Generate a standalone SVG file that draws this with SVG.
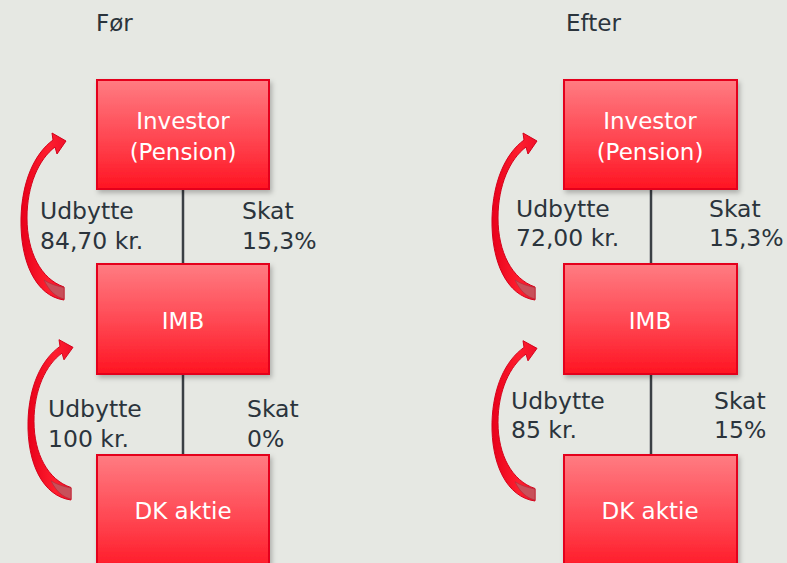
<svg xmlns="http://www.w3.org/2000/svg" xmlns:xlink="http://www.w3.org/1999/xlink" width="787" height="563" viewBox="0 0 787 563">
<defs>
<linearGradient id="boxg" x1="0" y1="0" x2="0" y2="1">
<stop offset="0" stop-color="#ff7c82"/>
<stop offset="0.5" stop-color="#ff4a55"/>
<stop offset="1" stop-color="#ff1422"/>
</linearGradient>
<linearGradient id="arrg" x1="0" y1="0" x2="1" y2="0">
<stop offset="0" stop-color="#e8001a"/>
<stop offset="0.6" stop-color="#ff1e2e"/>
<stop offset="1" stop-color="#f0102a"/>
</linearGradient>
<filter id="sh" x="-10%" y="-10%" width="130%" height="130%">
<feDropShadow dx="2" dy="3" stdDeviation="2.5" flood-color="#000" flood-opacity="0.25"/>
</filter>
<g id="arrow">
<path d="M64,300 C36,296 20,262 21,218 C22,182 34,154 53,140 L52,133 L66,141 L57,154 L55,147 C39,159 27,185 27,218 C27,252 41,279 64,287 Z" fill="url(#arrg)" stroke="#d4001a" stroke-width="1"/>
<path d="M44,280 C50,284 57,286 64,287.5 L64,299 C56,297 49,291 44,280 Z" fill="#c8505a" stroke="#b8303c" stroke-width="0.8"/>
</g>
</defs>
<style>
.box{fill:url(#boxg);stroke:#e4001e;stroke-width:2;filter:url(#sh)}
.bt{font-family:"DejaVu Sans",sans-serif;font-size:23px;fill:#ffffff;text-anchor:middle}
.lt{font-family:"DejaVu Sans",sans-serif;font-size:23.5px;fill:#2b343c}
.hd{font-family:"DejaVu Sans",sans-serif;font-size:23px;fill:#2b343c}
.ln{stroke:#3a3f44;stroke-width:2.5}
</style>
<rect width="787" height="563" fill="#e6e8e3"/>
<g id="headings">
<text class="hd" x="96" y="31">Før</text>
<text class="hd" x="566" y="31">Efter</text>
</g>
<g id="connectors">
<line class="ln" x1="183" y1="189" x2="183" y2="264"/>
<line class="ln" x1="183" y1="374" x2="183" y2="455"/>
<line class="ln" x1="651" y1="189" x2="651" y2="264"/>
<line class="ln" x1="651" y1="374" x2="651" y2="455"/>
<use xlink:href="#arrow"/>
<use xlink:href="#arrow" transform="translate(7,212) scale(1,0.96)"/>
<use xlink:href="#arrow" transform="translate(471,0)"/>
<use xlink:href="#arrow" transform="translate(471,213) scale(1,0.96)"/>
</g>
<g id="for-investor"><rect class="box" x="97" y="80" width="172" height="109"/><text class="bt" x="183" y="129">Investor</text><text class="bt" x="183" y="160">(Pension)</text></g>
<g id="for-imb"><rect class="box" x="97" y="264" width="172" height="110"/><text class="bt" x="183" y="329">IMB</text></g>
<g id="for-dk"><rect class="box" x="97" y="455" width="172" height="120"/><text class="bt" x="183" y="519">DK aktie</text></g>
<g id="efter-investor"><rect class="box" x="564" y="80" width="173" height="109"/><text class="bt" x="650" y="129">Investor</text><text class="bt" x="650" y="160">(Pension)</text></g>
<g id="efter-imb"><rect class="box" x="564" y="264" width="173" height="110"/><text class="bt" x="650" y="329">IMB</text></g>
<g id="efter-dk"><rect class="box" x="564" y="455" width="173" height="120"/><text class="bt" x="650" y="519">DK aktie</text></g>
<g id="labels">
<text class="lt" x="40" y="219">Udbytte</text><text class="lt" x="40" y="249">84,70 kr.</text>
<text class="lt" x="242" y="219">Skat</text><text class="lt" x="242" y="249">15,3%</text>
<text class="lt" x="48" y="417">Udbytte</text><text class="lt" x="48" y="447">100 kr.</text>
<text class="lt" x="247" y="417">Skat</text><text class="lt" x="247" y="447">0%</text>
<text class="lt" x="516" y="217">Udbytte</text><text class="lt" x="516" y="246">72,00 kr.</text>
<text class="lt" x="709" y="217">Skat</text><text class="lt" x="709" y="246">15,3%</text>
<text class="lt" x="511" y="409">Udbytte</text><text class="lt" x="511" y="438">85 kr.</text>
<text class="lt" x="714" y="409">Skat</text><text class="lt" x="714" y="438">15%</text>
</g>
</svg>
